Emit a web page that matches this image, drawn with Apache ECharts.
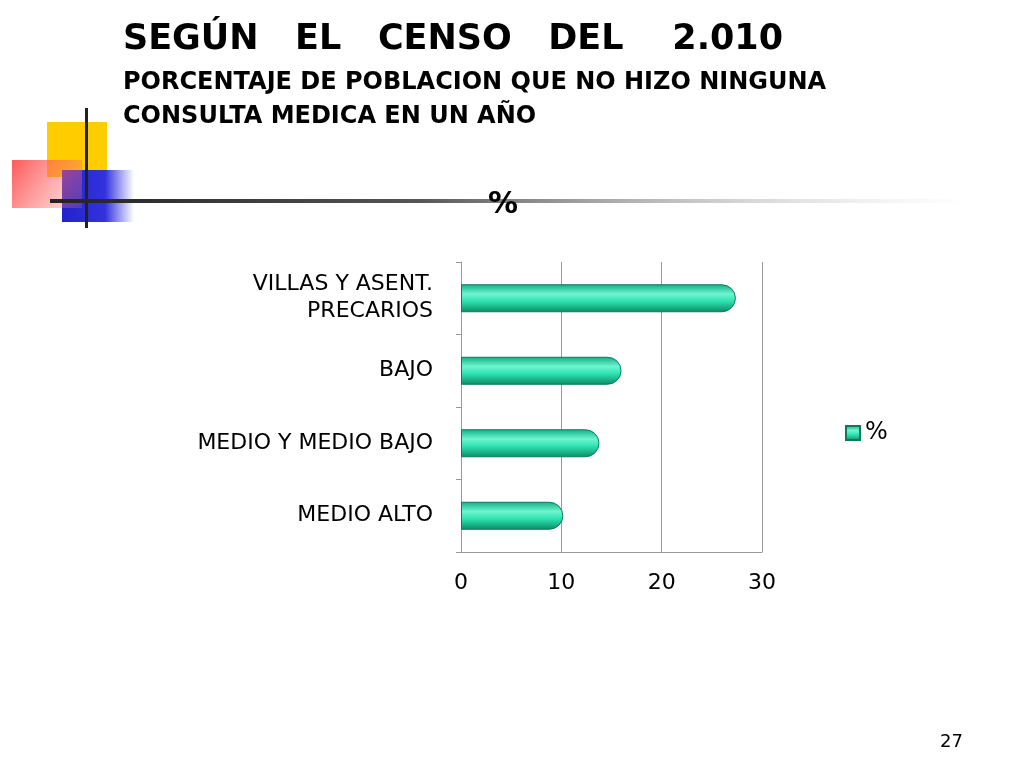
<!DOCTYPE html>
<html><head><meta charset="utf-8">
<script src="https://cdn.jsdelivr.net/npm/echarts@6/dist/echarts.min.js"></script>
<style>html,body{margin:0;background:#fff}#c{width:1024px;height:768px}</style>
</head><body><div id="c"></div>
<script>
const categories = ['MEDIO ALTO', 'MEDIO Y MEDIO BAJO', 'BAJO', 'VILLAS Y ASENT.\nPRECARIOS'];
const values = [10.2, 13.8, 16.0, 27.4];
const seriesName = '%';
const ticks = [0, 10, 20, 30];

const chart = echarts.init(document.getElementById('c'));
chart.setOption({
  animation: false,
  textStyle: {fontFamily: 'DejaVu Sans'},
  graphic: [
    {type:'text', left:123, top:22, style:{text:'SEGÚN   EL   CENSO   DEL    2.010', font:'bold 35px "DejaVu Sans"', fill:'#000'}},
    {type:'text', left:123, top:66, style:{text:'PORCENTAJE DE POBLACION QUE NO HIZO NINGUNA\nCONSULTA MEDICA EN UN AÑO', font:'bold 24px "DejaVu Sans"', fill:'#000', lineHeight:34}},
    {type:'rect', shape:{x:47,y:122,width:60,height:55}, style:{fill:'#ffcc00'}},
    {type:'rect', shape:{x:62,y:170,width:72,height:52}, style:{fill:new echarts.graphic.LinearGradient(0,0,1,0,[{offset:0,color:'#2222cc'},{offset:0.6,color:'#3333dd'},{offset:1,color:'rgba(60,60,230,0)'}])}},
    {type:'rect', shape:{x:12,y:160,width:70,height:48}, style:{fill:new echarts.graphic.LinearGradient(0,0,1,1,[{offset:0,color:'rgba(255,80,80,0.95)'},{offset:1,color:'rgba(255,120,120,0.2)'}])}},
    {type:'rect', shape:{x:85,y:108,width:3,height:120}, style:{fill:'#222'}},
    {type:'rect', shape:{x:50,y:199,width:920,height:4}, style:{fill:new echarts.graphic.LinearGradient(0,0,1,0,[{offset:0,color:'#222'},{offset:0.4,color:'#555'},{offset:1,color:'rgba(200,200,200,0)'}])}},
    {type:'text', left:488, top:190, style:{text:'%', font:'bold 30px "DejaVu Sans"', fill:'#000'}},
    {type:'text', left:940, top:733, style:{text:'27', font:'18px "DejaVu Sans"', fill:'#000'}}
  ],
  legend: {data:[seriesName], left:840, top:416, icon:'rect', itemWidth:14, itemHeight:14, textStyle:{fontSize:24, color:'#000'}},
  grid: {left:461, right:262, top:262, bottom:216},
  xAxis: {type:'value', min:0, max:30, interval:10,
    axisLabel:{fontSize:22, color:'#000', margin:20, formatter:v=>ticks.includes(v)?String(v):''},
    splitLine:{lineStyle:{color:'#999'}}, axisLine:{show:true, lineStyle:{color:'#999'}}},
  yAxis: {type:'category', data:categories,
    axisLabel:{fontSize:22, color:'#000', margin:28, align:'right', lineHeight:27},
    axisLine:{lineStyle:{color:'#999'}}, axisTick:{show:true, lineStyle:{color:'#999'}}},
  series: [{name:seriesName, type:'bar', data:values, barWidth:28,
    itemStyle:{borderRadius:[0,14,14,0], borderColor:'#0c7a5c', borderWidth:1,
      color:new echarts.graphic.LinearGradient(0,0,0,1,[{offset:0,color:'#0fae85'},{offset:0.35,color:'#6ff5d0'},{offset:0.6,color:'#2fe3b2'},{offset:1,color:'#0a8a66'}])}}]
});
</script></body></html>
